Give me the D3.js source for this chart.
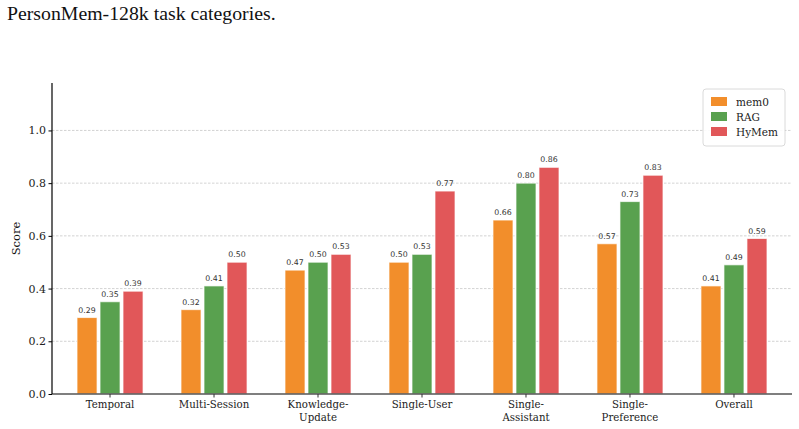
<!DOCTYPE html>
<html>
<head>
<meta charset="utf-8">
<script src="https://cdn.jsdelivr.net/npm/d3@7"></script>
<style>
  body { margin: 0; background: #fff; }
  svg { display: block; }
</style>
</head>
<body>
<div class="chart"></div>
<script>
const categories = ["Temporal", "Multi-Session", "Knowledge-\nUpdate", "Single-User", "Single-\nAssistant", "Single-\nPreference", "Overall"];
const seriesNames = ["mem0", "RAG", "HyMem"];
const mem0 = [0.29, 0.32, 0.47, 0.50, 0.66, 0.57, 0.41];
const rag = [0.35, 0.41, 0.50, 0.53, 0.80, 0.73, 0.49];
const hymem = [0.39, 0.50, 0.53, 0.77, 0.86, 0.83, 0.59];
const yTicks = [0.0, 0.2, 0.4, 0.6, 0.8, 1.0];
const colors = ["#f28e2b", "#59a14f", "#e15759"];

const width = 799, height = 429;
const margin = {top: 83, right: 7, bottom: 35, left: 52};
const innerWidth = width - margin.left - margin.right;
const innerHeight = height - margin.top - margin.bottom;

const svg = d3.select('.chart').append('svg')
  .attr('width', width).attr('height', height);

svg.append('text')
  .attr('x', 7).attr('y', 20)
  .attr('font-family', 'Liberation Serif, serif')
  .attr('font-size', 19.8)
  .attr('fill', '#111')
  .text('PersonMem-128k task categories.');

const xScale = d3.scaleBand()
  .domain(d3.range(categories.length))
  .range([0, innerWidth])
  .paddingInner(0)
  .paddingOuter(0.058);

const yScale = d3.scaleLinear()
  .domain([0, 1.18])
  .range([innerHeight, 0]);

const g = svg.append('g')
  .attr('transform', `translate(${margin.left},${margin.top})`);

// grid
g.append('g')
  .selectAll('line').data(yTicks.slice(1))
  .join('line')
  .attr('x1', 0).attr('x2', innerWidth)
  .attr('y1', d => yScale(d)).attr('y2', d => yScale(d))
  .attr('stroke', '#c8c8c8')
  .attr('stroke-width', 0.8)
  .attr('stroke-dasharray', '2.5,1.5');

const series = [mem0, rag, hymem];
const barStep = 23, barWidth = 20;

series.forEach((vals, si) => {
  const off = (si - 1) * barStep;
  const sg = g.append('g');
  sg.selectAll('rect').data(vals)
    .join('rect')
    .attr('x', (d, i) => xScale(i) + xScale.bandwidth() / 2 + off - barWidth / 2)
    .attr('y', d => yScale(d))
    .attr('width', barWidth)
    .attr('height', d => innerHeight - yScale(d))
    .attr('fill', colors[si])
    .attr('stroke', '#fff')
    .attr('stroke-opacity', 0.7)
    .attr('stroke-width', 1);
  sg.selectAll('text').data(vals)
    .join('text')
    .attr('x', (d, i) => xScale(i) + xScale.bandwidth() / 2 + off)
    .attr('y', d => yScale(d) - 5)
    .attr('text-anchor', 'middle')
    .attr('font-family', 'DejaVu Sans, sans-serif')
    .attr('font-size', 7.8)
    .attr('fill', '#333')
    .text(d => d.toFixed(2));
});

// x axis
const xAxis = g.append('g')
  .attr('transform', `translate(0,${innerHeight})`)
  .call(d3.axisBottom(xScale).tickSize(3.5));
xAxis.selectAll('.tick text').remove();
xAxis.select('.domain').attr('stroke', '#555').attr('stroke-width', 1.6)
  .attr('d', `M0,0H${innerWidth}`);
xAxis.selectAll('.tick line').attr('stroke', '#333');
xAxis.selectAll('.tick').each(function(d) {
  const lines = categories[d].split('\n');
  lines.forEach((l, k) => {
    d3.select(this).append('text')
      .attr('x', 0)
      .attr('y', 14 + k * 13)
      .attr('text-anchor', 'middle')
      .attr('font-family', 'DejaVu Serif, serif')
      .attr('font-size', 10.2)
      .attr('fill', '#222')
      .text(l);
  });
});

// y axis
const yAxis = g.append('g')
  .call(d3.axisLeft(yScale).tickValues(yTicks).tickSize(3.5).tickFormat(d3.format('.1f')));
yAxis.select('.domain').attr('stroke', '#000').attr('stroke-width', 1.2)
  .attr('d', `M0,${innerHeight}V0`);
yAxis.selectAll('.tick line').attr('stroke', '#000');
yAxis.selectAll('.tick text')
  .attr('font-family', 'DejaVu Serif, serif')
  .attr('font-size', 11)
  .attr('fill', '#222')
  .attr('x', -6);

svg.append('text')
  .attr('transform', `translate(20,${margin.top + innerHeight / 2}) rotate(-90)`)
  .attr('text-anchor', 'middle')
  .attr('font-family', 'DejaVu Serif, serif')
  .attr('font-size', 11.5)
  .attr('fill', '#111')
  .text('Score');

// legend
const lg = svg.append('g').attr('transform', 'translate(703,89)');
lg.append('rect')
  .attr('width', 82).attr('height', 57).attr('rx', 3)
  .attr('fill', '#fff').attr('fill-opacity', 0.9)
  .attr('stroke', '#d0d0d0').attr('stroke-width', 0.8);
seriesNames.forEach((n, i) => {
  lg.append('rect')
    .attr('x', 8).attr('y', 8 + i * 15)
    .attr('width', 16).attr('height', 9)
    .attr('fill', colors[i]);
  lg.append('text')
    .attr('x', 33).attr('y', 16.5 + i * 15)
    .attr('font-family', 'DejaVu Serif, serif')
    .attr('font-size', 10.5)
    .attr('fill', '#222')
    .text(n);
});
</script>
</body>
</html>
